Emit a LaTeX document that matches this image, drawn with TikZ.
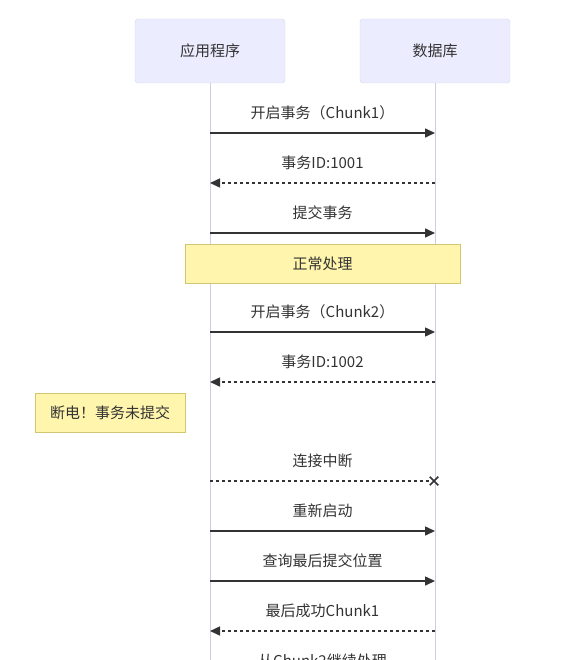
\documentclass[tikz,border=0pt]{standalone}
\usepackage{fontspec}
\setmainfont{Noto Sans CJK SC}
\usetikzlibrary{arrows.meta,shapes.misc}
\definecolor{actorfill}{HTML}{ECECFF}
\definecolor{actorline}{HTML}{D6D6F0}
\definecolor{lifeline}{HTML}{CDCDE3}
\definecolor{notefill}{HTML}{FFF5AD}
\definecolor{noteline}{HTML}{D2C670}
\definecolor{ink}{HTML}{333333}
\begin{document}
\begin{tikzpicture}[x=1pt, y=-1pt,
        actor/.style={rectangle, draw=actorline, fill=actorfill, rounded corners=3pt, minimum width=150pt, minimum height=64pt, font=\fontsize{15}{18}\selectfont, text=ink},
        life/.style={draw=lifeline, line width=1pt},
        note/.style={rectangle, draw=noteline, fill=notefill, line width=1pt, minimum height=39pt, font=\fontsize{15}{18}\selectfont, text=ink},
        lbl/.style={font=\fontsize{15}{18}\selectfont, text=ink, inner sep=0pt},
        msg/.style={-{Triangle[length=10pt, width=9pt]}, draw=ink, line width=1.5pt},
        reply/.style={-{Triangle[length=10pt, width=9pt]}, draw=ink, line width=1.5pt, dash pattern=on 3pt off 3pt},
        lost/.style={draw=ink, line width=1.5pt, dash pattern=on 3pt off 3pt},
        crossmark/.style={draw=ink, line width=1.5pt, cross out, minimum size=7pt, inner sep=0pt}
    ]
        \useasboundingbox (0,0) rectangle (585,660);

        % participants and lifelines
        \node[actor] (app) at (210, 51) {应用程序};
        \node[actor] (db) at (435, 51) {数据库};
        \coordinate (append) at (210, 700);
        \coordinate (dbend) at (435, 700);
        \draw[life] (app.south) -- (append);
        \draw[life] (db.south) -- (dbend);

        % first chunk
        \coordinate (a1) at (210, 133); \coordinate (d1) at (435, 133);
        \node[lbl] (m1) at (322.5, 113) {开启事务（Chunk1）};
        \draw[msg] (a1) -- (d1);
        \coordinate (a2) at (210, 183); \coordinate (d2) at (435, 183);
        \node[lbl] (m2) at (322.5, 163) {事务ID:1001};
        \draw[reply] (d2) -- (a2);
        \coordinate (a3) at (210, 233); \coordinate (d3) at (435, 233);
        \node[lbl] (m3) at (322.5, 213) {提交事务};
        \draw[msg] (a3) -- (d3);
        \node[note, minimum width=275pt] (ok) at (322.5, 263.5) {正常处理};

        % second chunk
        \coordinate (a4) at (210, 332); \coordinate (d4) at (435, 332);
        \node[lbl] (m4) at (322.5, 312) {开启事务（Chunk2）};
        \draw[msg] (a4) -- (d4);
        \coordinate (a5) at (210, 382); \coordinate (d5) at (435, 382);
        \node[lbl] (m5) at (322.5, 362) {事务ID:1002};
        \draw[reply] (d5) -- (a5);
        \node[note, minimum width=150pt] (cut) at (110, 412.5) {断电！事务未提交};

        % recovery
        \coordinate (a6) at (210, 481); \coordinate (d6) at (431, 481);
        \node[lbl] (m6) at (322.5, 461) {连接中断};
        \draw[lost] (a6) -- (d6);
        \node[crossmark] (x6) at (434, 481) {};
        \coordinate (a7) at (210, 531); \coordinate (d7) at (435, 531);
        \node[lbl] (m7) at (322.5, 511) {重新启动};
        \draw[msg] (a7) -- (d7);
        \coordinate (a8) at (210, 581); \coordinate (d8) at (435, 581);
        \node[lbl] (m8) at (322.5, 561) {查询最后提交位置};
        \draw[msg] (a8) -- (d8);
        \coordinate (a9) at (210, 631); \coordinate (d9) at (435, 631);
        \node[lbl] (m9) at (322.5, 611) {最后成功Chunk1};
        \draw[reply] (d9) -- (a9);
        \node[lbl] (m10) at (322.5, 661) {从Chunk2继续处理};
    \end{tikzpicture}
\end{document}
